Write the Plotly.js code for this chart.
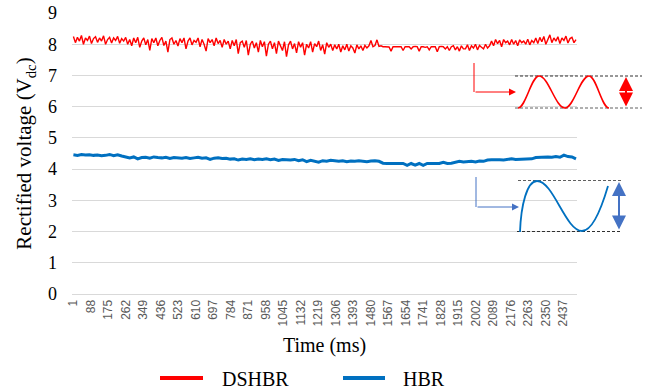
<!DOCTYPE html>
<html><head><meta charset="utf-8">
<script src="https://cdn.plot.ly/plotly-3.0.1.min.js"></script>
<style>html,body{margin:0;padding:0;background:#fff;} #chart{width:649px;height:392px;}</style>
</head><body><div id="chart"></div>
<script>
const tickLabels = ['1','88','175','262','349','436','523','610','697','784','871','958','1045','1132','1219','1306','1393','1480','1567','1654','1741','1828','1915','2002','2089','2176','2263','2350','2437'];
const seriesNames = ['DSHBR', 'HBR'];
const dshbrStepMs = 10;
const hbrStepMs = 20;
const dshbr = [
 8.25,8.05,8.22,8.10,8.28,8.00,8.20,8.12,8.26,8.02,8.18,8.24,8.06,8.20,8.10,8.27,8.00,8.15,8.22,8.04,8.20,8.12,8.25,8.03,8.18,8.10,8.22,8.00,
 8.15,7.95,8.20,8.05,8.22,7.90,8.10,8.20,7.98,8.15,7.80,8.18,8.05,8.20,7.95,8.12,8.22,7.96,8.10,7.75,8.15,8.20,8.00,8.12,7.94,8.18,8.05,8.20,7.85,8.10,8.20,7.98,8.12,8.06,8.20,7.92,8.15,8.00,7.78,8.18,8.05,8.15,7.95,8.20,8.02,8.12,7.90,8.15,8.00,
 8.10,7.85,8.12,7.95,8.15,7.70,8.05,8.10,7.90,8.12,7.65,8.00,8.10,7.88,8.05,7.75,8.12,7.92,8.08,7.62,8.00,8.10,7.85,8.05,7.70,8.10,7.95,7.80,8.08,7.60,7.98,8.10,7.85,8.02,7.72,8.08,7.90,8.05,7.65,8.00,7.88,8.08,7.75,8.02,7.92,8.10,7.80,7.98,7.68,8.05,7.90,8.00,
 7.80,7.98,7.85,8.00,7.75,7.95,7.82,8.00,7.78,7.95,7.88,7.72,7.98,7.85,7.95,7.80,7.96,7.88,
 7.95,8.12,7.92,7.96,8.14,7.93,7.95,7.92,
 7.92,7.92,7.91,7.78,7.92,7.92,7.92,7.93,7.92,7.80,7.92,7.92,7.92,7.85,7.92,7.93,7.92,7.78,7.92,7.92,7.90,7.92,7.82,7.92,7.92,7.92,7.76,7.92,7.93,7.92,7.85,7.92,7.80,7.92,7.95,7.82,7.92,7.78,7.95,7.85,
 7.85,7.98,7.80,7.95,7.88,8.00,7.82,7.96,7.90,7.85,8.00,7.88,7.95,
 8.10,7.95,8.15,8.02,8.12,7.92,8.15,8.05,8.10,7.98,8.15,8.00,8.12,7.95,8.14,8.05,8.10,8.00,8.16,7.98,8.12,8.05,
 8.20,8.02,8.22,8.08,8.25,8.00,8.18,8.30,8.05,8.20,8.10,8.24,8.02,8.20,8.12,8.26,8.04,8.18,8.22,8.05,8.15
];
const hbr = [
 4.46,4.44,4.47,4.45,4.46,4.44,4.45,
 4.43,4.44,4.47,4.43,4.46,4.42,
 4.38,4.36,4.39,4.33,4.37,4.38,4.35,4.39,4.37,4.36,4.38,4.34,4.37,4.36,
 4.35,4.37,4.34,4.36,4.38,4.35,4.36,4.31,4.35,4.36,4.34,4.35,
 4.32,4.33,4.29,4.32,4.31,4.33,4.30,4.32,4.31,4.33,4.30,4.32,4.28,4.31,4.30,4.29,4.31,
 4.27,4.30,4.24,4.28,4.26,4.22,4.27,4.25,4.28,
 4.26,4.25,4.27,4.24,4.26,4.25,4.27,4.26,4.24,4.26,4.27,4.25,
 4.19,4.18,4.18,4.19,4.18,4.18,4.12,4.18,4.13,4.18,4.12,4.18,4.18,4.19,4.18,4.22,4.18,4.19,
 4.22,4.25,4.23,4.24,4.25,4.23,4.26,4.25,
 4.29,4.30,4.31,4.30,4.29,
 4.32,4.33,4.31,4.32,4.33,4.32,4.33,
 4.37,4.38,4.37,4.39,4.38,4.40,4.38,4.45,4.40,4.39,4.33
];
const dshbrTime = dshbr.map((_, i) => 1 + i * dshbrStepMs);
const hbrTime = hbr.map((_, i) => 1 + i * hbrStepMs);

const RED = '#ff0000', BLUE = '#0070c0', BLUE2 = '#4472c4';
const L = 72, R = 72, T = 13, B = 98, WIDTH = 649, HEIGHT = 392;
const PW = WIDTH - L - R, PH = HEIGHT - T - B;
const px = x => (x - L) / PW;
const py = y => (T + PH - y) / PH;
const serif = '"Liberation Serif", "Times New Roman", Times, serif';
const DASH = '3px,2px';

function seg(x0, y0, x1, y1, color, width, dash) {
  return {type: 'line', xref: 'paper', yref: 'paper', x0: px(x0), y0: py(y0), x1: px(x1), y1: py(y1),
    line: {color: color, width: width, dash: dash || 'solid'}};
}
function curve(pts, color, width) {
  let d = 'M' + px(pts[0][0]) + ',' + py(pts[0][1]);
  for (let k = 1; k < pts.length; k++) {
    d += ' C' + pts[k].map(p => px(p[0]) + ',' + py(p[1])).join(' ');
  }
  return {type: 'path', xref: 'paper', yref: 'paper', path: d, line: {color: color, width: width}};
}
function halfWave(x0, y0, x1, y1) {
  const dx = (x1 - x0) * 0.364;
  return [[x0 + dx, y0], [x1 - dx, y1], [x1, y1]];
}
function arrow(xh, yh, ax, ay, color, width, both) {
  return {xref: 'paper', yref: 'paper', x: px(xh), y: py(yh), ax: ax, ay: ay, text: '', showarrow: true,
    arrowhead: 2, arrowsize: 1.4, arrowwidth: width, arrowcolor: color, arrowside: both ? 'end+start' : 'end',
    standoff: 0, startstandoff: 0};
}

const shapes = [
  seg(474, 63, 474, 92, RED, 1),
  seg(515, 76, 642, 76, '#303030', 1, DASH),
  seg(515, 108, 642, 108, '#606060', 1, DASH),
  curve([[518, 108], halfWave(518, 108, 539, 76), halfWave(539, 76, 565, 108), halfWave(565, 108, 589, 76), halfWave(589, 76, 609, 108)], RED, 1.6),
  seg(476, 177, 476, 207, BLUE2, 1),
  seg(518, 180.5, 621, 180.5, '#606060', 1, DASH),
  seg(517, 231.5, 621, 231.5, '#303030', 1, DASH),
  curve([[520, 232], [[521, 205], [527, 181], [537, 181]], halfWave(537, 181, 582, 231), [[594, 231], [603, 203], [608, 186]]], BLUE, 1.8),
  seg(160, 378, 203, 378, RED, 4),
  seg(343, 378, 385, 378, BLUE, 4)
];

const annotations = [
  arrow(516, 92, -42, 0, RED, 1, false),
  arrow(626, 77, 0, 31, RED, 2, true),
  arrow(519, 207, -43, 0, BLUE2, 1, false),
  arrow(619, 182, 0, 49, BLUE2, 2, true),
  {xref: 'paper', yref: 'paper', x: px(220), y: py(379), xanchor: 'left', yanchor: 'middle', text: seriesNames[0], showarrow: false, font: {family: serif, size: 20, color: '#000'}},
  {xref: 'paper', yref: 'paper', x: px(401), y: py(379), xanchor: 'left', yanchor: 'middle', text: seriesNames[1], showarrow: false, font: {family: serif, size: 20, color: '#000'}}
];

const traces = [
  {x: dshbrTime, y: dshbr, name: seriesNames[0], type: 'scatter', mode: 'lines', line: {color: RED, width: 1.4}, showlegend: false},
  {x: hbrTime, y: hbr, name: seriesNames[1], type: 'scatter', mode: 'lines', line: {color: BLUE, width: 3}, showlegend: false}
];

const layout = {
  width: WIDTH, height: HEIGHT,
  margin: {l: L, r: R, t: T, b: B, pad: 0},
  paper_bgcolor: '#fff', plot_bgcolor: '#fff',
  font: {family: serif},
  showlegend: false,
  hovermode: false,
  xaxis: {
    range: [-6, 2506], tickmode: 'array', tickvals: tickLabels.map(Number), ticktext: tickLabels,
    tickangle: -90, showgrid: false, zeroline: false, showline: true, linecolor: '#d9d9d9', linewidth: 1,
    ticks: '', tickfont: {family: '"Liberation Sans", Arial, sans-serif', size: 12, color: '#595959'},
    title: {text: 'Time (ms)', font: {family: serif, size: 20, color: '#000', weight: 'normal'}, standoff: 12},
    automargin: false, fixedrange: true
  },
  yaxis: {
    range: [0, 9], dtick: 1, tick0: 0, showgrid: true, gridcolor: '#d9d9d9', gridwidth: 1,
    zeroline: true, zerolinecolor: '#d9d9d9', zerolinewidth: 1, showline: false, ticks: '',
    ticklabelstandoff: 14,
    tickfont: {family: serif, size: 18, color: '#000'},
    title: {text: 'Rectified voltage (V<sub>dc</sub>)', font: {family: serif, size: 21, color: '#000', weight: 'normal'}, standoff: 10},
    automargin: false, fixedrange: true
  },
  shapes: shapes,
  annotations: annotations
};

Plotly.newPlot('chart', traces, layout, {displayModeBar: false, staticPlot: true});
</script>
</body></html>
